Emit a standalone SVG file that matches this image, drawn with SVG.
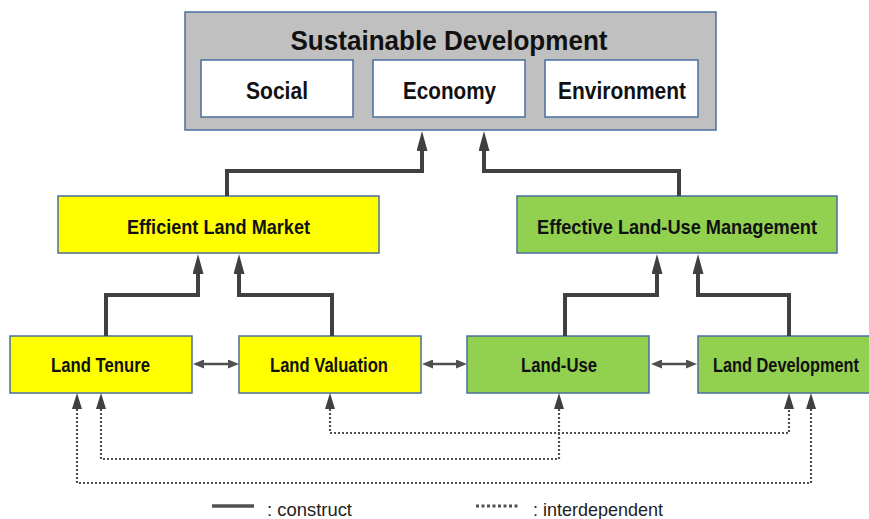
<svg xmlns="http://www.w3.org/2000/svg" width="869" height="519" viewBox="0 0 869 519">
  <style>
    .box { stroke: #4a6e9e; stroke-width: 1.5; }
    .gray { fill: #c0c0c0; }
    .white { fill: #ffffff; }
    .yellow { fill: #ffff00; }
    .green { fill: #92d050; }
    .lbl { font-family: "Liberation Sans", Arial, sans-serif; font-weight: bold; fill: #111; text-anchor: middle; }
    .construct { fill: none; stroke: #404040; stroke-width: 4; stroke-linejoin: miter; }
    .link { fill: none; stroke: #505050; stroke-width: 2.5; }
    .dotted { fill: none; stroke: #505050; stroke-width: 2.2; stroke-dasharray: 2 2; }
    .legend { font-family: "Liberation Sans", Arial, sans-serif; font-size: 19px; fill: #222; }
  </style>
  <defs>
    <marker id="big" markerUnits="userSpaceOnUse" viewBox="0 0 20 11" markerWidth="20" markerHeight="11" refX="0" refY="5.5" orient="auto">
      <path d="M0,0 L20,5.5 L0,11 z" fill="#404040"/>
    </marker>
    <marker id="small" markerUnits="userSpaceOnUse" viewBox="0 0 11 9" markerWidth="11" markerHeight="9" refX="0" refY="4.5" orient="auto-start-reverse">
      <path d="M0,0 L11,4.5 L0,9 z" fill="#505050"/>
    </marker>
    <marker id="dot" markerUnits="userSpaceOnUse" viewBox="0 0 16 10" markerWidth="16" markerHeight="10" refX="0" refY="5" orient="auto-start-reverse">
      <path d="M0,0 L16,5 L0,10 z" fill="#404040"/>
    </marker>
  </defs>

  <g id="sustainable-development">
    <rect class="box gray" x="185" y="12" width="531" height="118"/>
    <text class="lbl" x="449" y="50" font-size="27" textLength="317" lengthAdjust="spacingAndGlyphs">Sustainable Development</text>
  </g>
  <g id="social">
    <rect class="box white" x="201" y="60" width="152" height="57"/>
    <text class="lbl" x="277" y="99" font-size="23" textLength="62" lengthAdjust="spacingAndGlyphs">Social</text>
  </g>
  <g id="economy">
    <rect class="box white" x="373" y="60" width="152" height="57"/>
    <text class="lbl" x="449.5" y="99" font-size="23" textLength="93" lengthAdjust="spacingAndGlyphs">Economy</text>
  </g>
  <g id="environment">
    <rect class="box white" x="545" y="60" width="153" height="57"/>
    <text class="lbl" x="622" y="99" font-size="23" textLength="128" lengthAdjust="spacingAndGlyphs">Environment</text>
  </g>

  <g id="efficient-land-market">
    <rect class="box yellow" x="58" y="196" width="321" height="57"/>
    <text class="lbl" x="218.5" y="234" font-size="21" textLength="183" lengthAdjust="spacingAndGlyphs">Efficient Land Market</text>
  </g>
  <g id="effective-land-use-management">
    <rect class="box green" x="517" y="196" width="320" height="57"/>
    <text class="lbl" x="677" y="234" font-size="21" textLength="280" lengthAdjust="spacingAndGlyphs">Effective Land-Use Management</text>
  </g>

  <g id="land-tenure">
    <rect class="box yellow" x="10" y="336" width="182" height="57"/>
    <text class="lbl" x="100.5" y="372" font-size="19.5" textLength="99" lengthAdjust="spacingAndGlyphs">Land Tenure</text>
  </g>
  <g id="land-valuation">
    <rect class="box yellow" x="239" y="336" width="182" height="57"/>
    <text class="lbl" x="329" y="372" font-size="19.5" textLength="118" lengthAdjust="spacingAndGlyphs">Land Valuation</text>
  </g>
  <g id="land-use">
    <rect class="box green" x="467" y="336" width="182" height="57"/>
    <text class="lbl" x="559" y="372" font-size="19.5" textLength="76" lengthAdjust="spacingAndGlyphs">Land-Use</text>
  </g>
  <g id="land-development">
    <rect class="box green" x="698" y="336" width="182" height="57"/>
    <text class="lbl" x="786" y="372" font-size="19.5" textLength="146" lengthAdjust="spacingAndGlyphs">Land Development</text>
  </g>

  <g id="connectors">
    <path class="construct" d="M227,196 V171 H422 V151" marker-end="url(#big)"/>
    <path class="construct" d="M679,196 V171 H484 V151" marker-end="url(#big)"/>
    <path class="construct" d="M106,336 V295 H198 V274" marker-end="url(#big)"/>
    <path class="construct" d="M332,336 V295 H239 V274" marker-end="url(#big)"/>
    <path class="construct" d="M565,336 V295 H657 V274" marker-end="url(#big)"/>
    <path class="construct" d="M789,336 V295 H698 V274" marker-end="url(#big)"/>

    <path class="link" d="M204,364 H228" marker-start="url(#small)" marker-end="url(#small)"/>
    <path class="link" d="M433,364 H456" marker-start="url(#small)" marker-end="url(#small)"/>
    <path class="link" d="M662,364 H686" marker-start="url(#small)" marker-end="url(#small)"/>

    <path class="dotted" d="M330,409 V433 H789 V409" marker-start="url(#dot)" marker-end="url(#dot)"/>
    <path class="dotted" d="M101,409 V459 H559 V409" marker-start="url(#dot)" marker-end="url(#dot)"/>
    <path class="dotted" d="M77,409 V483 H811 V409" marker-start="url(#dot)" marker-end="url(#dot)"/>
  </g>

  <g id="legend">
    <path d="M212,506 H254" stroke="#505050" stroke-width="3.5" fill="none"/>
    <text class="legend" x="267" y="516" textLength="85" lengthAdjust="spacingAndGlyphs">: construct</text>
    <path d="M476,506 H520" stroke="#505050" stroke-width="3" stroke-dasharray="3 2.5" fill="none"/>
    <text class="legend" x="533" y="516" textLength="130" lengthAdjust="spacingAndGlyphs">: interdependent</text>
  </g>
</svg>
